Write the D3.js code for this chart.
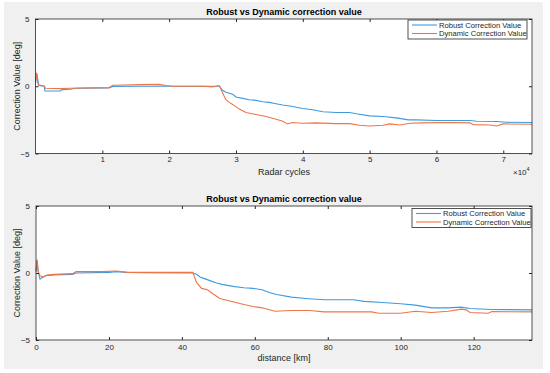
<!DOCTYPE html>
<html>
<head>
<meta charset="utf-8">
<script src="https://cdn.jsdelivr.net/npm/d3@7"></script>
<style>
  body { margin: 0; background: #fff; }
  text { font-family: "Liberation Sans", Arial, sans-serif; }
</style>
</head>
<body>
<div id="chart"></div>
<script>
// top panel: radar cycles
const cyclesRobust = [
  [0, 0.2], [200, 0.95], [500, 0.05], [1300, 0], [1400, -0.35], [3700, -0.35], [4000, -0.25],
  [5200, -0.22], [6000, -0.15], [11000, -0.12], [11600, -0.02], [19000, 0.02], [20000, 0],
  [27500, 0], [28000, -0.3], [28500, -0.45], [29500, -0.6],
  [30000, -0.8], [31000, -0.9], [32000, -1.0], [33000, -1.05], [34000, -1.15], [35000, -1.2],
  [36000, -1.3], [37000, -1.4], [38500, -1.5], [40000, -1.65], [41500, -1.75], [43000, -1.9],
  [45000, -1.95], [47000, -1.95], [48000, -2.05], [50000, -2.2], [52000, -2.25], [54000, -2.35],
  [55800, -2.5], [57000, -2.5], [60000, -2.55], [65000, -2.55], [66000, -2.6], [69000, -2.62],
  [70500, -2.68], [74300, -2.7]
];
const cyclesDynamic = [
  [0, 0.3], [150, 1.0], [400, 0.1], [1300, 0.02], [1500, -0.15], [3700, -0.18], [5000, -0.15],
  [11000, -0.1], [11600, 0.08], [16000, 0.12], [18500, 0.15], [19500, 0.05], [20500, 0],
  [25000, 0], [26500, -0.05], [27000, 0], [27500, 0.05],
  [28000, -0.5], [28500, -1.0], [29000, -1.2], [29500, -1.35], [30500, -1.7], [31500, -1.95],
  [33000, -2.1], [34500, -2.25], [36000, -2.45], [37000, -2.6], [37700, -2.8], [38500, -2.7],
  [40000, -2.75], [42000, -2.72], [45000, -2.78], [47000, -2.78], [48500, -2.9], [50000, -2.95],
  [52000, -2.9], [53000, -2.8], [54500, -2.88], [56000, -2.75], [58000, -2.72], [62000, -2.7],
  [65000, -2.72], [65500, -2.85], [68000, -2.88], [69000, -2.95], [70000, -2.8], [74300, -2.82]
];

// bottom panel: distance in km
const kmRobust = [
  [0, 0.1], [0.3, 0.95], [0.6, 0.1], [1.1, -0.45], [1.6, -0.35], [2.5, -0.2], [5, -0.15],
  [10, -0.1], [11, 0], [20, 0.05], [22, 0.1], [25, 0.05], [30, 0.02], [43, 0], [44, -0.1],
  [45, -0.3], [46, -0.4], [47.5, -0.55], [49.5, -0.75], [51, -0.85], [54, -1.0], [57, -1.1],
  [59.5, -1.15], [62, -1.25], [64, -1.45], [66, -1.6], [70, -1.8], [74, -1.9], [79, -2.0],
  [87, -2.0], [90, -2.12], [95, -2.2], [100, -2.3], [104, -2.4], [108.5, -2.6], [113, -2.6],
  [116.5, -2.55], [119, -2.65], [125, -2.72], [136, -2.75]
];
const kmDynamic = [
  [0, 0.2], [0.3, 1.0], [0.6, 0.1], [1.1, -0.2], [2, -0.3], [3, -0.15], [5, -0.1], [10, -0.05],
  [11, 0.1], [18, 0.1], [22, 0.15], [25, 0.05], [43, 0.05], [44, -0.7], [45.4, -1.15],
  [47, -1.25], [48.5, -1.55], [50.4, -1.9], [54, -2.15], [57, -2.35], [59.5, -2.5], [62, -2.6],
  [65.5, -2.85], [70, -2.8], [75, -2.8], [79, -2.9], [92, -2.9], [94, -3.0], [100, -3.0],
  [104, -2.85], [108.5, -2.95], [113, -2.85], [116.7, -2.7], [118, -2.75], [119, -2.95],
  [124, -3.0], [125, -2.88], [136, -2.9]
];

const cycleTicks = [10000, 20000, 30000, 40000, 50000, 60000, 70000];
const kmTicks = [0, 20, 40, 60, 80, 100, 120];
const yTicks = [-5, 0, 5];
const seriesNames = ["Robust Correction Value", "Dynamic Correction Value"];

const width = 550, height = 373;
const blue = "#3d9be0", orange = "#ee7548";

const svg = d3.select("#chart").append("svg")
  .attr("width", width).attr("height", height);

svg.append("rect").attr("x", 4).attr("y", 2).attr("width", 539).attr("height", 367)
  .attr("fill", "#f0f0f0");

function drawPanel(cfg) {
  const { left, right, top, bottom, xMax, xTicks, tickFmt, tickPad, xLabel, robust, dynamic, legendX, legendY } = cfg;

  const x = d3.scaleLinear().domain([0, xMax]).range([left, right]);
  const y = d3.scaleLinear().domain([-5, 5]).range([bottom, top]);

  const g = svg.append("g");

  g.append("rect").attr("x", left).attr("y", top)
    .attr("width", right - left).attr("height", bottom - top)
    .attr("fill", "#fff");

  const line = d3.line().x(d => x(d[0])).y(d => y(d[1]));

  g.append("path").datum(robust).attr("d", line)
    .attr("fill", "none").attr("stroke", blue).attr("stroke-width", 1.1);
  g.append("path").datum(dynamic).attr("d", line)
    .attr("fill", "none").attr("stroke", orange).attr("stroke-width", 1.1);

  // axes, ticks pointing inward like matlab
  const axisStyle = sel => {
    sel.select(".domain").remove();
    sel.selectAll("line").attr("stroke", "#262626");
    sel.selectAll("text").attr("fill", "#262626").style("font-size", "8px");
  };

  g.append("g").attr("transform", `translate(0,${bottom})`)
    .call(d3.axisBottom(x).tickValues(xTicks).tickFormat(tickFmt).tickSizeInner(-3).tickPadding(tickPad))
    .call(axisStyle);
  g.append("g").attr("transform", `translate(0,${top})`)
    .call(d3.axisTop(x).tickValues(xTicks).tickFormat("").tickSizeInner(-3))
    .call(axisStyle);
  g.append("g").attr("transform", `translate(${left},0)`)
    .call(d3.axisLeft(y).tickValues(yTicks).tickSizeInner(-3).tickPadding(6))
    .call(axisStyle);
  g.append("g").attr("transform", `translate(${right},0)`)
    .call(d3.axisRight(y).tickValues(yTicks).tickFormat("").tickSizeInner(-3))
    .call(axisStyle);

  g.append("rect").attr("x", left).attr("y", top)
    .attr("width", right - left).attr("height", bottom - top)
    .attr("fill", "none").attr("stroke", "#262626").attr("stroke-width", 0.8);

  g.append("text").attr("x", 284).attr("y", top - 4)
    .attr("text-anchor", "middle").style("font-size", "9px").style("font-weight", "bold")
    .attr("fill", "#000").text("Robust vs Dynamic correction value");

  g.append("text").attr("x", 284).attr("y", bottom + 21)
    .attr("text-anchor", "middle").style("font-size", "9px")
    .attr("fill", "#262626").text(xLabel);

  g.append("text")
    .attr("transform", `translate(20,${(top + bottom) / 2}) rotate(-90)`)
    .attr("text-anchor", "middle").style("font-size", "9px")
    .attr("fill", "#262626").text("Correction Value [deg]");

  // legend
  const lg = g.append("g").attr("transform", `translate(${legendX},${legendY})`);
  lg.append("rect").attr("width", 119).attr("height", 19)
    .attr("fill", "#fff").attr("stroke", "#262626").attr("stroke-width", 0.8);
  [blue, orange].forEach((c, i) => {
    lg.append("line").attr("x1", 4).attr("x2", 29)
      .attr("y1", 5 + i * 8.5).attr("y2", 5 + i * 8.5)
      .attr("stroke", c).attr("stroke-width", 1.1);
    lg.append("text").attr("x", 31).attr("y", 5 + i * 8.5).attr("dy", "0.35em")
      .style("font-size", "7.6px").attr("fill", "#262626").text(seriesNames[i]);
  });

  return g;
}

const topPanel = drawPanel({
  left: 35.5, right: 532, top: 19, bottom: 153.5, xMax: 74300,
  xTicks: cycleTicks, tickFmt: d => d / 10000, tickPad: 3, xLabel: "Radar cycles",
  robust: cyclesRobust, dynamic: cyclesDynamic, legendX: 408, legendY: 20
});

const ex = topPanel.append("text").attr("x", 513).attr("y", 175)
  .style("font-size", "8px").attr("fill", "#262626");
ex.append("tspan").text("\u00d710");
ex.append("tspan").attr("dy", -4).style("font-size", "5.5px").text("4");

drawPanel({
  left: 36, right: 532, top: 206, bottom: 340, xMax: 136,
  xTicks: kmTicks, tickFmt: d => d, tickPad: 4, xLabel: "distance [km]",
  robust: kmRobust, dynamic: kmDynamic, legendX: 412, legendY: 208.5
});
</script>
</body>
</html>
